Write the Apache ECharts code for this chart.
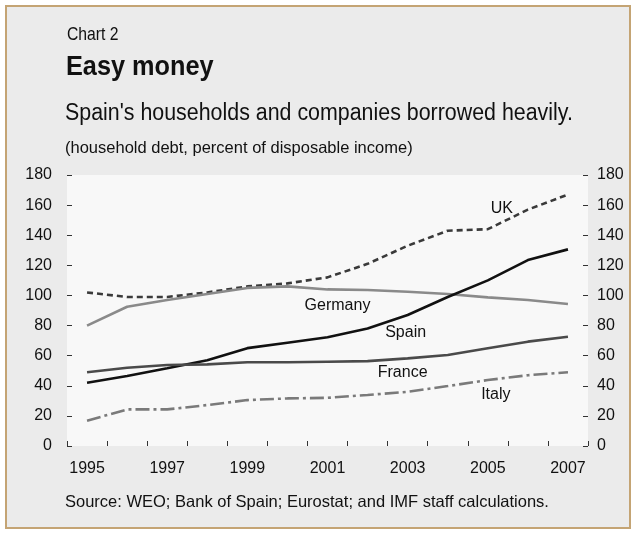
<!DOCTYPE html>
<html><head><meta charset="utf-8">
<script src="https://cdn.jsdelivr.net/npm/echarts@6/dist/echarts.min.js"></script>
<style>
html,body{margin:0;padding:0;background:#fff;}
#frame{position:absolute;left:5px;top:5px;width:622px;height:520px;border:2px solid #c4a474;background:#ebebeb;}
#c{position:absolute;left:0;top:0;width:634px;height:534px;}
</style></head>
<body>
<div id="frame"></div>
<div id="c"></div>
<script>
const years = ['1995','1996','1997','1998','1999','2000','2001','2002','2003','2004','2005','2006','2007'];
const yTicks = [0,20,40,60,80,100,120,140,160,180];
const uk      = [102, 99, 99, 102, 106, 108, 112, 121, 133, 143, 144, 157, 167];
const germany = [80, 92.5, 97, 101, 105, 106, 104, 103.6, 102.5, 101, 98.7, 97, 94.3];
const spain   = [42, 46.5, 51.6, 57, 65, 68.6, 72.2, 78, 87, 99, 110, 123.5, 130.6];
const france  = [49, 52, 53.8, 54.2, 55.6, 55.6, 56, 56.4, 58.2, 60.4, 64.9, 69.3, 72.6];
const italy   = [16.8, 24.3, 24.3, 27.2, 30.5, 31.6, 32, 33.9, 36, 39.8, 43.8, 47, 49];

const titleText = 'Chart 2';
const headline = 'Easy money';
const subtitle = "Spain's households and companies borrowed heavily.";
const unitNote = '(household debt, percent of disposable income)';
const sourceNote = 'Source: WEO; Bank of Spain; Eurostat; and IMF staff calculations.';

const FONT = "'Liberation Sans Narrow','Arial Narrow','Liberation Sans',sans-serif";
const chart = echarts.init(document.getElementById('c'), null, {renderer:'canvas'});

function lbl(text, idx, val, off){
  return {symbol:'circle', symbolSize:0, silent:true,
    data:[{coord:[idx, val], label:{show:true, formatter:text, offset:off, color:'#111', fontFamily:FONT, fontSize:16}}]};
}
function yAxisCfg(pos){
  return {type:'value', min:0, max:180, interval:20, position:pos,
    axisLine:{show:false}, splitLine:{show:false},
    axisTick:{show:true, inside:true, length:5, lineStyle:{color:'#333', width:1}},
    axisLabel:{color:'#111', fontFamily:FONT, fontSize:16, margin: pos==='left'?15:9}};
}
function txt(text, x, y, size, weight, sx){
  return {type:'text', x:x, y:y, scaleX:sx, silent:true,
    style:{text:text, fill:'#111', fontFamily:FONT, fontSize:size, fontWeight:weight, verticalAlign:'middle', align:'left'}};
}
const option = {
  animation:false,
  backgroundColor:'transparent',
  textStyle:{fontFamily:FONT},
  graphic:[
    txt(titleText, 67, 35, 18.5, 'normal', 0.85),
    txt(headline, 66, 67.5, 27.5, 'bold', 0.92),
    txt(subtitle, 65, 114, 23, 'normal', 0.93),
    txt(unitNote, 65, 148, 16.5, 'normal', 1),
    txt(sourceNote, 65, 502, 16.5, 'normal', 1)
  ],
  grid:{left:67, right:46, top:175, bottom:88, show:true, backgroundColor:'#f8f8f8', borderWidth:0},
  xAxis:{type:'category', data:years, boundaryGap:true,
    axisLine:{show:false},
    axisTick:{show:true, inside:true, length:5, interval:0, lineStyle:{color:'#333'}},
    axisLabel:{interval:1, color:'#111', fontFamily:FONT, fontSize:16, margin:15}},
  yAxis:[yAxisCfg('left'), yAxisCfg('right')],
  series:[
    {name:'UK', type:'line', data:uk, showSymbol:false, lineStyle:{color:'#3a3a3a', width:2.6, type:[6,4]},
      markPoint:lbl('UK', 10, 158, [14, 0])},
    {name:'Germany', type:'line', data:germany, showSymbol:false, lineStyle:{color:'#8a8a8a', width:2.6},
      markPoint:lbl('Germany', 6, 93, [10, 0])},
    {name:'Spain', type:'line', data:spain, showSymbol:false, lineStyle:{color:'#111', width:2.6},
      markPoint:lbl('Spain', 8, 75, [-2, 0])},
    {name:'France', type:'line', data:france, showSymbol:false, lineStyle:{color:'#4a4a4a', width:2.6},
      markPoint:lbl('France', 8, 48.5, [-5, 0])},
    {name:'Italy', type:'line', data:italy, showSymbol:false, lineStyle:{color:'#7a7a7a', width:2.6, type:[14,4,3,4]},
      markPoint:lbl('Italy', 10, 34, [8, 0])}
  ]
};
chart.setOption(option);
</script>
</body></html>
